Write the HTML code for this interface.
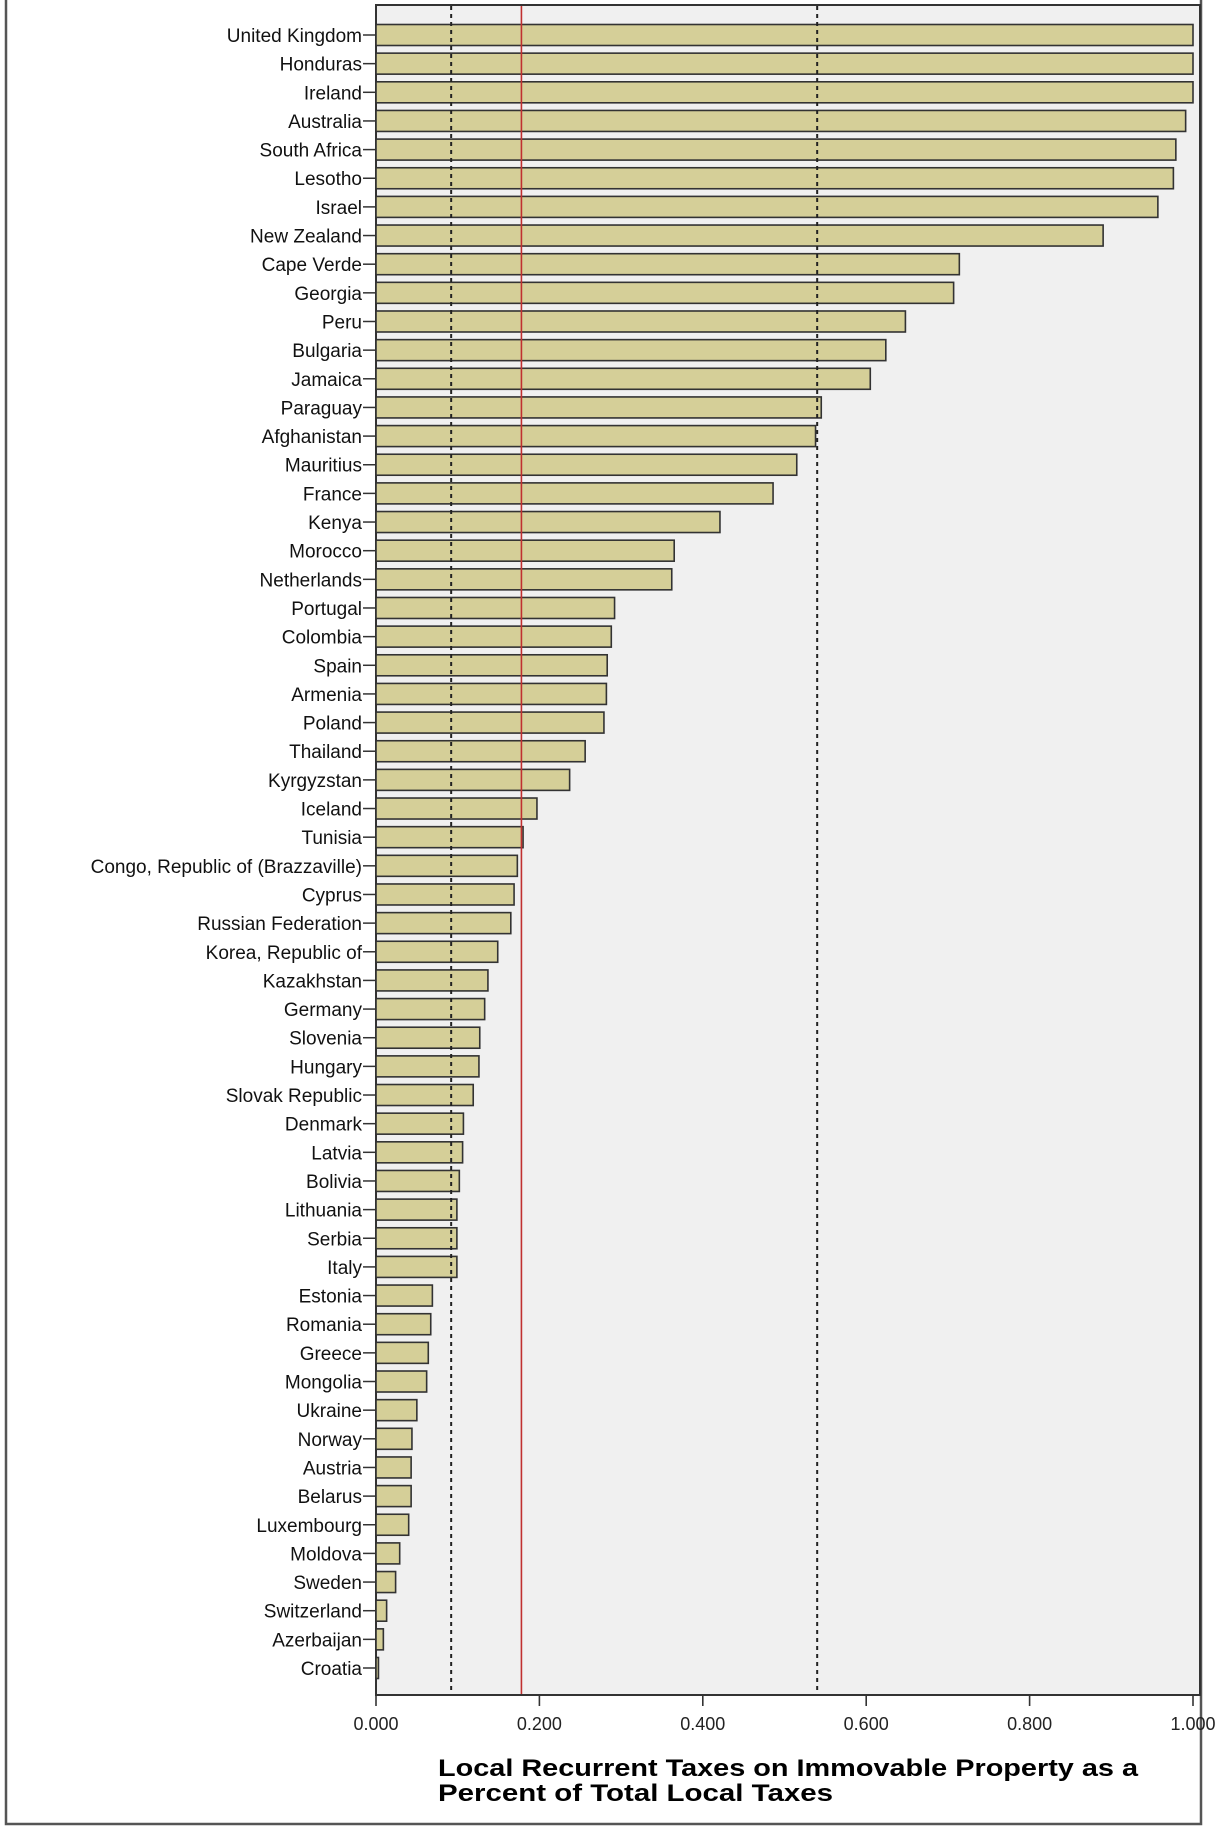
<!DOCTYPE html>
<html><head><meta charset="utf-8"><style>
html,body{margin:0;padding:0;background:#fff;}
svg{display:block;font-family:"Liberation Sans",Arial,sans-serif;}
</style></head><body>
<svg id="chart" width="1222" height="1831" viewBox="0 0 1222 1831">
  <rect x="6" y="-2" width="1195" height="1826" fill="#fff" stroke="#555" stroke-width="2.5"/>
  <rect x="376" y="5" width="824" height="1690" fill="#f0f0f0" stroke="#333" stroke-width="2"/>
  <g id="bars"></g>
  <g id="ylabels"></g>
  <g id="refs"></g>
  <g id="xaxis"></g>
  <text x="438" y="1776" font-size="24" font-weight="bold" fill="#000" textLength="700" lengthAdjust="spacingAndGlyphs">Local Recurrent Taxes on Immovable Property as a</text>
  <text x="438" y="1801" font-size="24" font-weight="bold" fill="#000" textLength="395" lengthAdjust="spacingAndGlyphs">Percent of Total Local Taxes</text>
</svg>
<script>
const countries = ["United Kingdom","Honduras","Ireland","Australia","South Africa","Lesotho","Israel","New Zealand","Cape Verde","Georgia","Peru","Bulgaria","Jamaica","Paraguay","Afghanistan","Mauritius","France","Kenya","Morocco","Netherlands","Portugal","Colombia","Spain","Armenia","Poland","Thailand","Kyrgyzstan","Iceland","Tunisia","Congo, Republic of (Brazzaville)","Cyprus","Russian Federation","Korea, Republic of","Kazakhstan","Germany","Slovenia","Hungary","Slovak Republic","Denmark","Latvia","Bolivia","Lithuania","Serbia","Italy","Estonia","Romania","Greece","Mongolia","Ukraine","Norway","Austria","Belarus","Luxembourg","Moldova","Sweden","Switzerland","Azerbaijan","Croatia"];
const values = [1.0,1.0,1.0,0.991,0.979,0.976,0.957,0.890,0.714,0.707,0.648,0.624,0.605,0.545,0.538,0.515,0.486,0.421,0.365,0.362,0.292,0.288,0.283,0.282,0.279,0.256,0.237,0.197,0.180,0.173,0.169,0.165,0.149,0.137,0.133,0.127,0.126,0.119,0.107,0.106,0.102,0.099,0.099,0.099,0.069,0.067,0.064,0.062,0.050,0.044,0.043,0.043,0.040,0.029,0.024,0.013,0.009,0.003];
const xTicks = [0,0.2,0.4,0.6,0.8,1.0];
const xTickLabels = ["0.000","0.200","0.400","0.600","0.800","1.000"];
const refLower = 0.092;
const refMean = 0.178;
const refUpper = 0.540;

const NS = "http://www.w3.org/2000/svg";
const x = v => 376 + v * 817;
const y = i => 35 + i * (1633 / 57);
function mk(tag, attrs, parent){const e=document.createElementNS(NS,tag);for(const k in attrs)e.setAttribute(k,attrs[k]);parent.appendChild(e);return e;}
const gB=document.getElementById('bars'), gL=document.getElementById('ylabels'), gR=document.getElementById('refs'), gX=document.getElementById('xaxis');

countries.forEach((c,i)=>{
  const b=mk('rect',{x:x(0),y:y(i)-10.5,width:Math.max(x(values[i])-x(0),1.5),height:21,fill:'#d5cf98',stroke:'#333','stroke-width':1.6},gB);
  
  
  const t=mk('text',{x:362,y:y(i)+7,'font-size':19,'text-anchor':'end',fill:'#111'},gL);
  t.textContent=c;
  
  
  const tk=mk('line',{x1:363,x2:376,y1:y(i),y2:y(i),stroke:'#333','stroke-width':1.5},gL);
  
  
});

[[refLower,'#222','4,4','lower-reference-line'],[refUpper,'#222','4,4','upper-reference-line'],[refMean,'#c03030',null,'mean-reference-line']].forEach(r=>{
  const a={x1:x(r[0]),x2:x(r[0]),y1:6,y2:1694,stroke:r[1],'stroke-width':r[2]?2:1.6};
  if(r[2])a['stroke-dasharray']=r[2];
  const l=mk('line',a,gR);
  
  
});

xTicks.forEach((v,i)=>{
  const l=mk('line',{x1:x(v),x2:x(v),y1:1695,y2:1706,stroke:'#333','stroke-width':1.6},gX);
  
  
  const t=mk('text',{x:x(v),y:1730,'font-size':18,'text-anchor':'middle',fill:'#222'},gX);
  t.textContent=xTickLabels[i];
  
  
});
</script>
</body></html>
